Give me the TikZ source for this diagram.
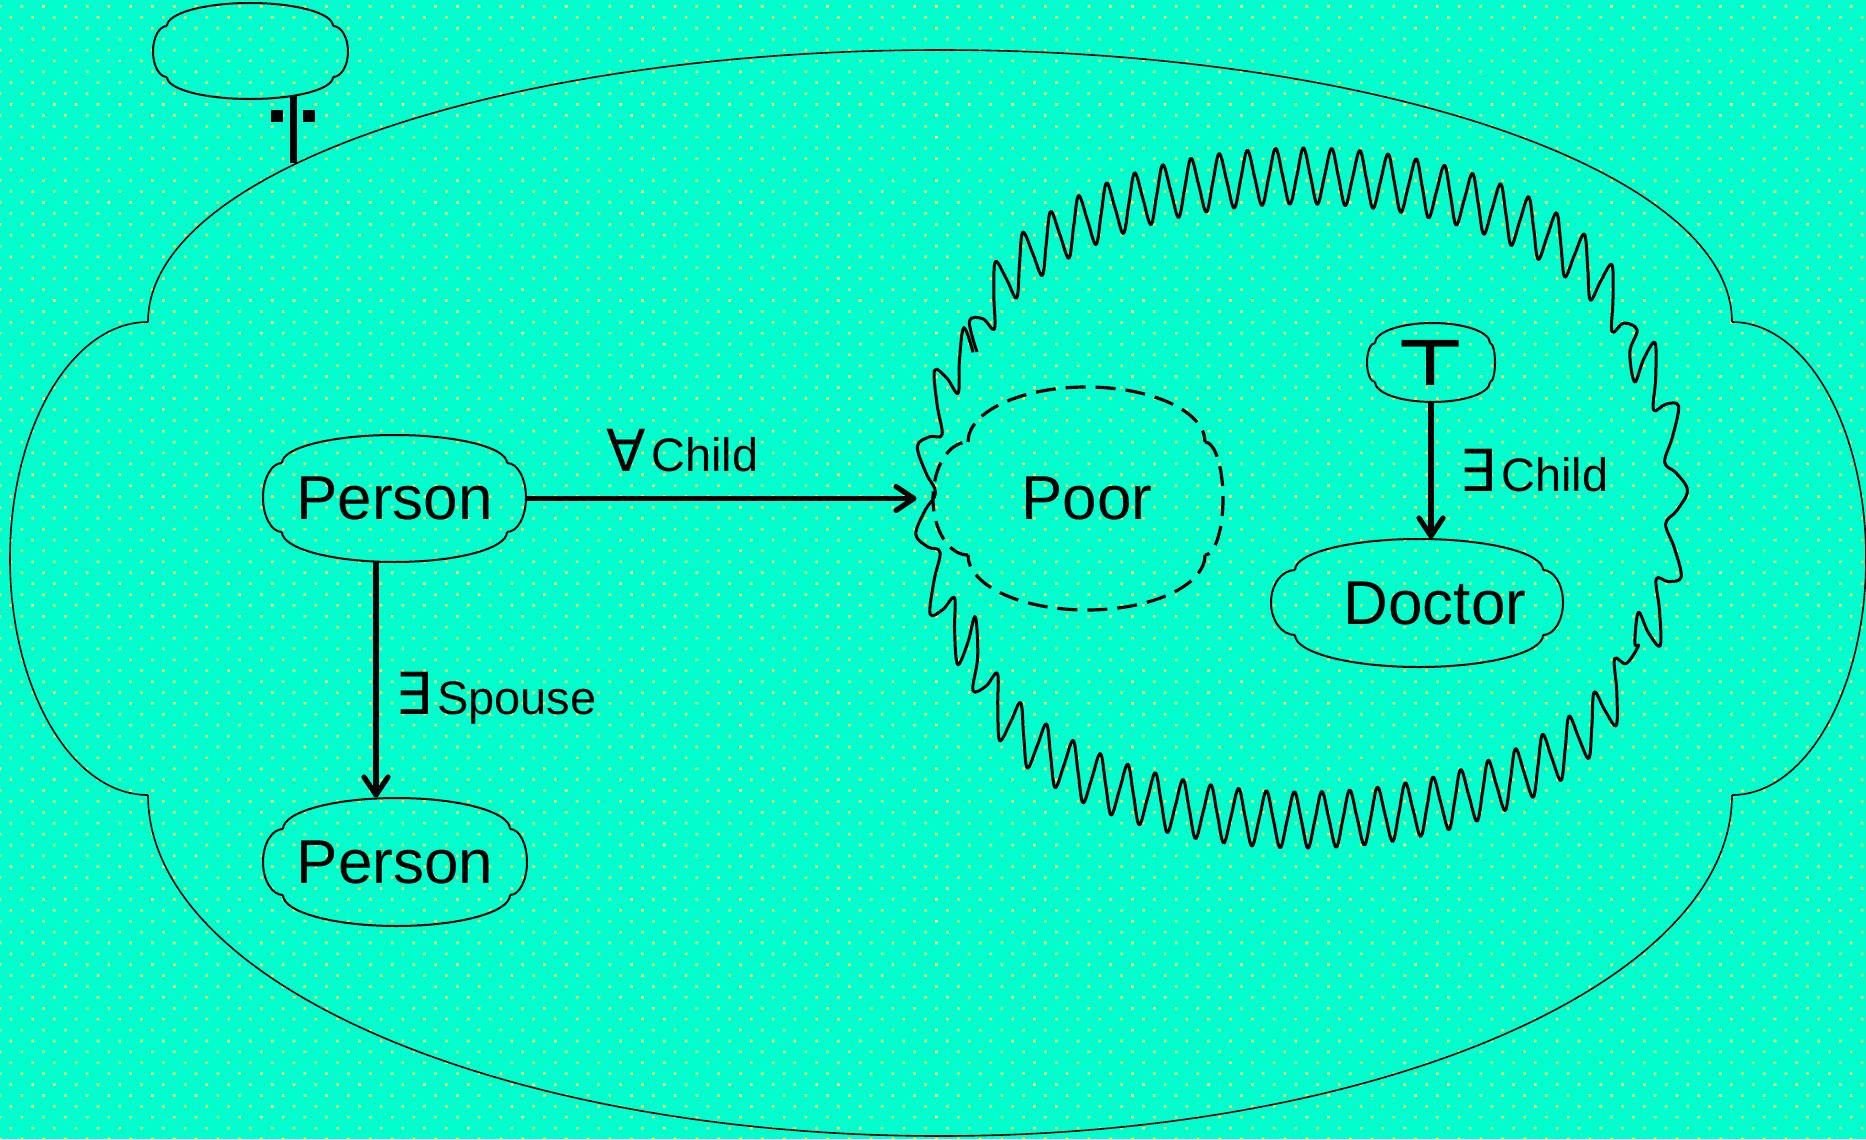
\documentclass[tikz,border=0pt]{standalone}
\usepackage{fontspec}
\setmainfont{Liberation Sans}
\newfontfamily\glyphfont{DejaVu Sans}
\usetikzlibrary{arrows.meta, positioning, calc, decorations.markings, patterns.meta}
\definecolor{aquafield}{HTML}{00FFCC}
\definecolor{speck}{HTML}{E2FF6A}
\tikzset{
  rel/.style={-{Straight Barb[length=9pt, width=12pt, round]}, line width=2.6pt},
  negbar/.style={line width=3.5pt},
  nub/.style={rectangle, fill=black, inner sep=0pt, minimum size=6pt},
  lbl/.style={inner sep=0pt, font=\fontsize{23.5}{28}\selectfont},
  puffbox/.style={rectangle, inner sep=0pt, font=\fontsize{31}{36}\selectfont},
  puffsize/.style 2 args={minimum width=#1*0.5pt, minimum height=#2*0.5pt},
  puffline/.style={line width=1pt},
  ripple/.style={line width=1.5pt, line join=round},
  puff cap/.style={},
  puff side/.style={},
}
\newcommand{\quant}[1]{{\glyphfont\fontsize{29}{34}\selectfont#1}\kern2.5pt}
% #2 node, #3 half width, #4 half height, #5 left, #6 right, #7 top, #8 bottom bulge
\newcommand{\puffring}[8][]{%
  \begin{scope}[shift={([shift={({(#5-#6)/2},{(#7-#8)/2})}]#2.center)}]
    \draw[#1, puff cap] (-#3,-#4) arc[start angle=180, end angle=360, x radius=#3, y radius=#7];
    \draw[#1, puff side] (#3,-#4) arc[start angle=270, end angle=450, x radius=#6, y radius=#4];
    \draw[#1, puff cap] (#3,#4) arc[start angle=0, end angle=180, x radius=#3, y radius=#8];
    \draw[#1, puff side] (-#3,#4) arc[start angle=90, end angle=270, x radius=#5, y radius=#4];
  \end{scope}}
\newcommand{\markno}{\pgfkeysvalueof{/pgf/decoration/mark info/sequence number}}

\begin{document}
\begin{tikzpicture}[x=0.5pt, y=-0.5pt]
  \useasboundingbox (0,0) rectangle (1866,1139);

  % Backdrop
  \fill[aquafield] (0,0) rectangle (1866,1139);
  \fill[pattern={Dots[distance=7.7pt, angle=45, radius=0.9pt]}, pattern color=speck] (0,0) rectangle (1866,1139);

  \node[puffbox, puffsize={1856}{1086}] (world) at (938,593) {};
  \node[puffbox, puffsize={195}{96}] (cue) at (250.5,51) {};
  \node[puffbox, puffsize={768}{644}] (ring) at (1301,498) {};
  \node[puffbox, puffsize={290}{223}] (poor) at (1078,498.5) {\hspace*{9pt}Poor};
  \node[puffbox, puffsize={263}{127}] (p1) at (394.5,498.5) {Person};
  \node[puffbox, puffsize={264}{128}] (p2) at (395,862) {Person};
  \node[puffbox, puffsize={128}{79}] (top) at (1431,362.5) {\glyphfont\bfseries\fontsize{32}{36}\selectfont\scalebox{1.2}[1]{⊤}};
  \node[puffbox, puffsize={292}{128}] (doc) at (1417,603) {\hspace*{18pt}Doctor};

  % Outlines
  \puffring[line width=0.8pt]{world}{792}{236.5}{138}{134}{272}{341}
  \puffring[puffline]{cue}{83}{25.5}{14}{15}{23}{22}
  \puffring[puffline]{p1}{112.5}{34.5}{19}{19}{28}{30}
  \puffring[puffline]{p2}{113.5}{33}{20}{17}{31}{31}
  \puffring[puffline]{top}{57.5}{19.5}{8}{5}{20}{20}
  \puffring[puffline]{doc}{124}{32.5}{24}{20}{31}{32}
  \puffring[line width=1.6pt, dash pattern=on 10pt off 5pt]{poor}{118.5}{56.5}{35}{18}{55}{55}

  % Ring: wave points taken on a squashed copy of the outline, then stretched back
  \begin{scope}[y=-0.18587pt]
    \path[decorate, decoration={markings, mark=between positions 0 and 1 step 3.5pt with {
        \pgfmathsetmacro\wob{5.25*sin(90*mod(\markno-1,4))}
        \coordinate (wv\markno) at (0pt,\wob pt);
        \xdef\wavecount{\markno}}}]
      (977,352) arc[start angle=180, end angle=360, x radius=325.5, y radius=176]
      arc[start angle=270, end angle=450, x radius=49, y radius=146.5]
      arc[start angle=0, end angle=180, x radius=325.5, y radius=175]
      arc[start angle=90, end angle=270, x radius=52, y radius=146.5];
  \end{scope}
  \gdef\wavelist{}
  \foreach \i in {1,...,\wavecount}{
    \path (wv\i); \pgfgetlastxy{\wx}{\wy}
    \pgfmathsetmacro\wyy{2.69*\wy}
    \xdef\wavelist{\wavelist (\wx,\wyy pt)}
  }
  \edef\drawwave{\noexpand\draw[ripple] plot[smooth, tension=0.6] coordinates {\wavelist};}
  \drawwave

  \coordinate (hook) at (293,163);
  \draw[negbar] ([xshift=21.25pt, yshift=1.5pt]cue.south) -- (hook)
    node[nub, pos=0.3, xshift=-8pt] (nubl) {}
    node[nub, pos=0.3, xshift=8pt] (nubr) {};

  \draw[rel] (p1.east) -- (p1.east -| ring.west)
    node[lbl, pos=0.4, above=11.75pt] {\quant{∀}Child};
  \draw[rel] ([xshift=-9.25pt]p1.south) -- ([xshift=-9.25pt]p1.south |- p2.north)
    node[lbl, pos=0.576, right=8.5pt] {\quant{∃}Spouse};
  \draw[rel] (top.south) -- (top.south |- doc.north)
    node[lbl, pos=0.5, right=13pt] {\quant{∃}Child};
\end{tikzpicture}
\end{document}
